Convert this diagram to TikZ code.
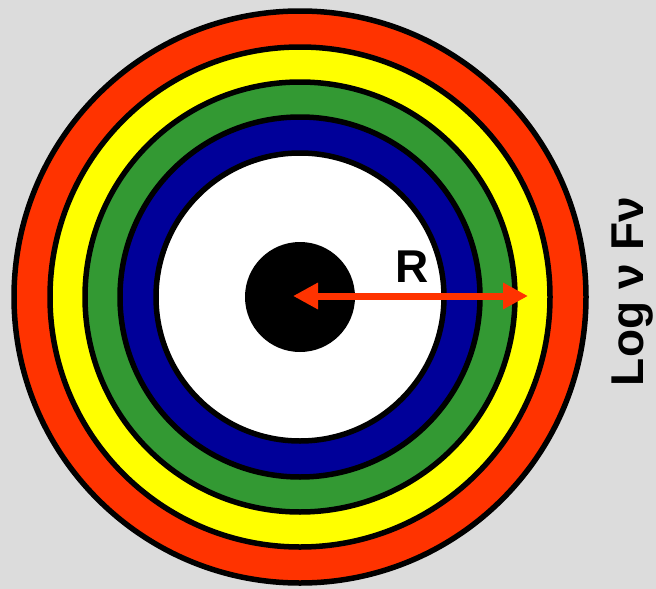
\documentclass[tikz,border=0pt]{standalone}
\usepackage{fontspec}
\setmainfont{Liberation Sans}
\usetikzlibrary{arrows.meta}
\definecolor{bg}{HTML}{DCDCDC}
\definecolor{ringred}{HTML}{FF3300}
\definecolor{ringyellow}{HTML}{FFFF00}
\definecolor{ringgreen}{HTML}{339933}
\definecolor{ringblue}{HTML}{000099}
\definecolor{arrred}{HTML}{FF3300}
\tikzset{
  ring/.style={circle, draw=black, line width=5.5pt, inner sep=0pt, outer sep=0pt, minimum size=#1},
  lbl/.style={font=\fontsize{46}{50}\selectfont\bfseries, inner sep=0pt}
}
\begin{document}
\begin{tikzpicture}[x=1pt,y=-1pt]
\useasboundingbox (0,0) rectangle (656,589);
\fill[bg] (0,0) rectangle (656,589);
\coordinate (c) at (300,297);
\node[ring=572pt, fill=ringred] (r1) at (c) {};
\node[ring=500pt, fill=ringyellow] (r2) at (c) {};
\node[ring=430pt, fill=ringgreen] (r3) at (c) {};
\node[ring=360pt, fill=ringblue] (r4) at (c) {};
\node[ring=288pt, fill=white] (r5) at (c) {};
\node[circle, fill=black, inner sep=0pt, minimum size=110pt] (core) at (c) {};
\coordinate (a1) at (293,296);
\coordinate (a2) at (528,296);
\draw[arrred, line width=7pt, {Triangle[length=25pt,width=25pt]}-{Triangle[length=25pt,width=25pt]}] (a1) -- (a2);
\node[lbl, anchor=base] (R) at (412,282) {R};
\node[lbl, rotate=90, anchor=base] (lf) at (643,291.5) {Log ν Fν};
\end{tikzpicture}
\end{document}
